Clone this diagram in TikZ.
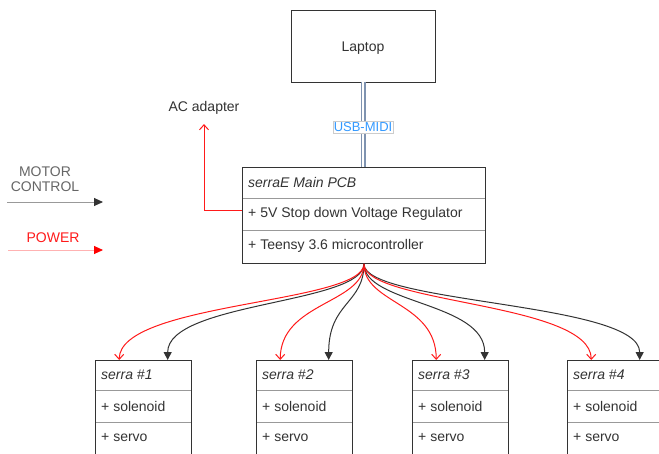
\documentclass[tikz,border=0pt]{standalone}
\usepackage{fontspec}
\setmainfont{Liberation Sans}
\usetikzlibrary{arrows.meta,calc}
\definecolor{txt}{HTML}{333333}
\definecolor{edgec}{HTML}{333333}
\definecolor{divc}{HTML}{999999}
\definecolor{redc}{HTML}{FF1A1A}
\definecolor{usbc}{HTML}{7F93B0}
\definecolor{usbtxt}{HTML}{3399FF}
\definecolor{legtxt}{HTML}{666666}
\begin{document}
\begin{tikzpicture}[x=1pt,y=-1pt,
  font=\fontsize{14}{15}\selectfont, text=txt,
  box/.style={draw=edgec, line width=0.9pt, fill=white, inner sep=0pt},
  divider/.style={draw=divc, line width=0.8pt},
  rowtext/.style={anchor=west, inner sep=0pt},
  blackedge/.style={draw=edgec, line width=1pt, -{Triangle[length=8pt,width=8pt]}},
  rededge/.style={draw=redc, line width=1pt, -{Straight Barb[length=5pt,width=9pt]}},
  usb/.style={draw=usbc, line width=1.4pt, double=white, double distance=2.2pt},
  usblabel/.style={fill=white, draw=gray!40, line width=0.5pt, text=usbtxt, inner sep=1pt, font=\fontsize{13}{14}\selectfont}
]
\useasboundingbox (0,0) rectangle (659,453);
\fill[white] (0,0) rectangle (659,453);

% Laptop
\node[box, minimum width=144, minimum height=72] (laptop) at (363,46) {};
\node (laptopt) at (363,48) {Laptop};

% Main PCB
\node[box, minimum width=243, minimum height=96, anchor=north west] (pcb) at (242,167) {};
\draw[divider] (242,198) -- (485,198);
\draw[divider] (242,230) -- (485,230);
\draw[draw=edgec, line width=0.9pt] (pcb.north west) rectangle (pcb.south east);
\node[rowtext] (pcbh) at (248,182) {\itshape serraE Main PCB};
\node[rowtext] (pcbr1) at (248,214) {+ 5V Stop down Voltage Regulator};
\node[rowtext] (pcbr2) at (248,246) {+ Teensy 3.6 microcontroller};

% USB link
\draw[usb] (laptop.south) -- (laptop.south |- pcb.north)
  node[pos=0.53, usblabel] (usbl) {USB-MIDI};

% AC adapter
\node (ac) at (204,108) {AC adapter};
\coordinate (acin) at (242,210);
\draw[rededge] (acin) -| ($(ac.south)+(0,6)$);

% Legend
\node[text=legtxt, align=center] (mc) at (45,179) {MOTOR\\CONTROL};
\coordinate (mcA) at (7,202);
\coordinate (mcB) at (103,202);
\draw[draw=gray!80, line width=0.9pt, -{Triangle[length=9pt,width=8pt,color=edgec]}] (mcA) -- (mcB);
\node[text=redc] (pw) at (53,238) {POWER};
\coordinate (pwA) at (8,250);
\coordinate (pwB) at (103,250);
\draw[draw=red!30, line width=0.9pt, -{Triangle[length=9pt,width=8pt,color=red]}] (pwA) -- (pwB);

% serra boxes
\foreach \n/\x in {1/95,2/256,3/412,4/567} {
  \node[box, minimum width=96, minimum height=97, anchor=north west] (s\n) at (\x,360) {};
  \draw[divider] (\x,390) -- ++(96,0);
  \draw[divider] (\x,422) -- ++(96,0);
  \draw[draw=edgec, line width=0.9pt] (s\n.south west) -- (s\n.north west) -- (s\n.north east) -- (s\n.south east);
  \node[rowtext] (s\n h) at (\x+6,375) {\itshape serra \#\n};
  \node[rowtext] (s\n a) at (\x+6,406) {+ solenoid};
  \node[rowtext] (s\n b) at (\x+6,438) {+ servo};
  \coordinate (s\n r) at ($(s\n.north west)!0.25!(s\n.north east)$);
  \coordinate (s\n k) at ($(s\n.north west)!0.75!(s\n.north east)$);
}

% curved edges
\foreach \n in {1,2,3,4} {
  \draw[blackedge] (pcb.south) .. controls +(0,40) and +(0,-58) .. (s\n k);
  \draw[rededge] (pcb.south) .. controls +(0,40) and +(0,-58) .. (s\n r);
}
\end{tikzpicture}
\end{document}
